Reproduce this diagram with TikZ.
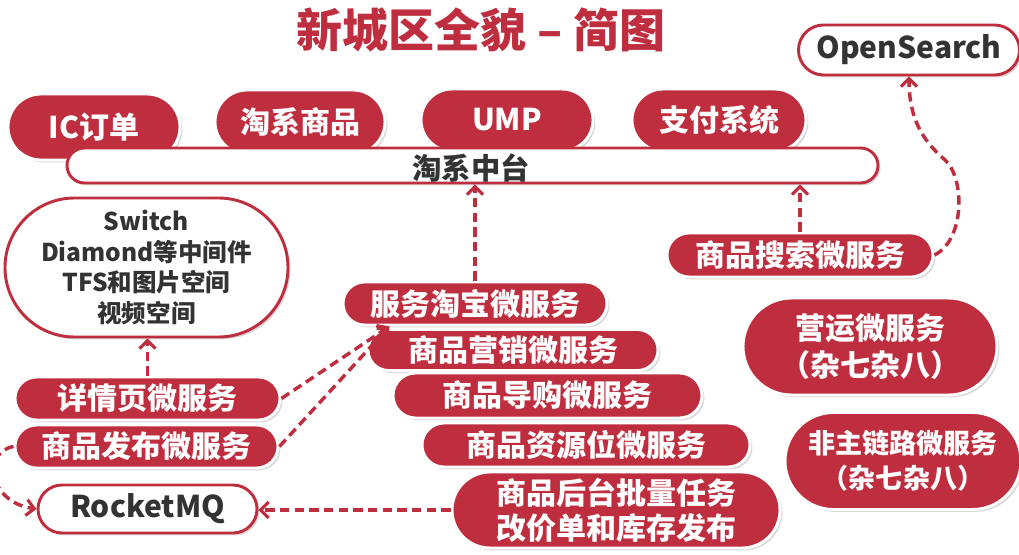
\documentclass[tikz,border=0pt]{standalone}
\usepackage{fontspec}
\setmainfont{Noto Sans CJK SC}
\usetikzlibrary{shapes.misc,shadows,arrows.meta}
\definecolor{tred}{RGB}{191,46,62}
\definecolor{tdark}{RGB}{51,51,51}
\tikzset{
  sz/.style 2 args={minimum width=#1*0.75pt, minimum height=#2*0.75pt},
  pillbase/.style={rounded rectangle, line width=2.2pt, align=center, inner sep=0pt,
    drop shadow={opacity=0.3, shadow xshift=1.8pt, shadow yshift=-1.8pt}},
  redpill/.style={pillbase, fill=tred, draw=white, text=white,
    font=\fontsize{22.5}{27}\selectfont\bfseries},
  whitepill/.style={pillbase, fill=white, draw=tred, text=tdark,
    font=\fontsize{22.5}{27}\selectfont\bfseries},
  conn/.style={draw=tred, line width=2.6pt, dash pattern=on 7pt off 4pt,
    -{Straight Barb[length=6pt,width=12pt,line width=2.3pt]}},
  titletext/.style={text=tred, font=\fontsize{34.5}{40}\selectfont\bfseries}
}
\begin{document}
\begin{tikzpicture}[x=0.75pt,y=-0.75pt]
\useasboundingbox (0,0) rectangle (1019,555);
% title
\node[titletext] (title) at (481,30) {新城区全貌 – 简图};
% top systems
\node[redpill, sz={172}{66}] (ic) at (94,127) {IC订单};
\node[redpill, sz={170}{64}] (tp) at (300,122) {淘系商品};
\node[redpill, sz={172}{62}] (ump) at (507,120) {UMP};
\node[redpill, sz={174}{62}] (zf) at (719,120) {支付系统};
% middle platform bar
\node[whitepill, sz={811}{35}] (zt) at (472.5,165.5) {\hspace*{0pt}};
\node[text=tdark, font=\fontsize{22}{26}\selectfont\bfseries] (ztl) at (471,168) {淘系中台};
% OpenSearch
\node[whitepill, sz={221}{50}] (os) at (909,50) {OpenSearch};
% switch box
\node[whitepill, sz={283}{139}, font=\fontsize{18.4}{23}\selectfont\bfseries] (sw) at (146.5,267.5)
  {Switch\\Diamond等中间件\\TFS和图片空间\\视频空间};
% search
\node[redpill, sz={266}{44}] (ss) at (800,255) {商品搜索微服务};
% staircase services
\node[redpill, sz={264}{43}] (fw) at (475,303.5) {服务淘宝微服务};
\node[redpill, sz={290}{41}] (yx) at (513,350) {商品营销微服务};
\node[redpill, sz={309}{45}] (dg) at (547.5,395.5) {商品导购微服务};
\node[redpill, sz={328}{44}] (zy) at (586,445) {商品资源位微服务};
\node[redpill, sz={328}{76}, font=\fontsize{22.5}{26.3}\selectfont\bfseries] (ht) at (616,510)
  {商品后台批量任务\\改价单和库存发布};
% misc services
\node[redpill, sz={254}{97}, font=\fontsize{22.5}{28}\selectfont\bfseries] (yy) at (870,346.5)
  {营运微服务\\（杂七杂八）};
\node[redpill, sz={236}{97}, font=\fontsize{20.3}{26.3}\selectfont\bfseries] (fz) at (903,461)
  {非主链路微服务\\（杂七杂八）};
% left services
\node[redpill, sz={265}{43}] (xq) at (147.5,398.5) {详情页微服务};
\node[redpill, sz={263}{43}] (fb) at (146.5,446.5) {商品发布微服务};
\node[whitepill, sz={219}{48}] (mq) at (147.5,509) {RocketMQ};
% connectors
\draw[conn] (fw.north) -- (fw.north |- zt.south);
\draw[conn] (ss.north) -- (ss.north |- zt.south);
\draw[conn] (ss.east) .. controls (965,240) and (965,178) .. (945,160)
  .. controls (922,140) and (909,118) .. (os.south);
\draw[conn] (xq.north) -- (xq.north |- sw.south);
\draw[conn] (xq.east) -- (fw.195);
\draw[conn] (fb.east) -- (fw.195);
\draw[conn] (fb.west) .. controls (-18,452) and (-12,502) .. (mq.west);
\draw[conn] (ht.west) -- (ht.west -| mq.east);
\end{tikzpicture}
\end{document}
